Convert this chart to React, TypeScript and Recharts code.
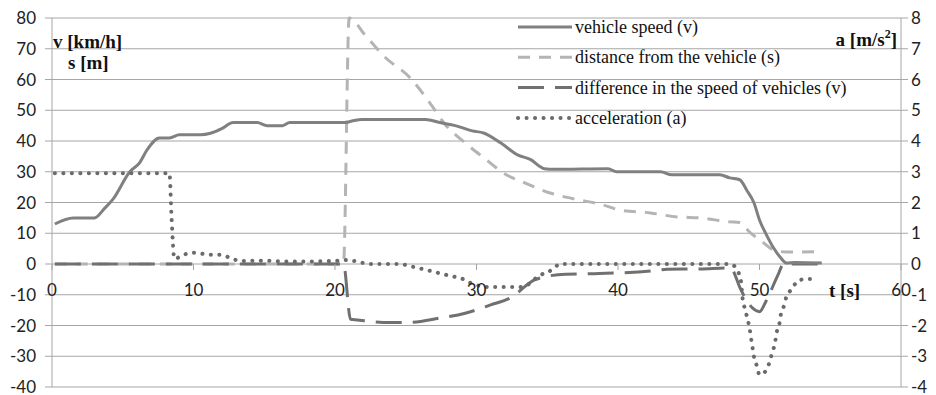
import React from 'react';
import { LineChart, Line, XAxis, YAxis, CartesianGrid, Legend } from 'recharts';

// vehicle speed v [km/h]
const speedT = [0.2, 1.5, 3, 3.7, 4.3, 5.5, 6.2, 6.7, 7.6, 8.3, 9, 10.5, 11.2, 12, 12.8, 14.5, 15.2, 16.3, 16.8, 20.7, 21.2, 21.9, 26.4, 27.4, 28.5, 29.7, 30.5, 31.7, 32.9, 33.8, 34.8, 35.5, 39.3, 39.9, 43, 43.8, 47.2, 47.9, 48.6, 49.1, 49.6, 50, 50.5, 51, 51.5, 51.9, 52.5, 54.4];
const speedV = [13, 15, 15, 18, 21, 30, 33, 37, 41, 41, 42, 42, 42.5, 44, 46, 46, 45, 45, 46, 46, 46.5, 47, 47, 46, 45, 43.3, 42.6, 39.4, 35.5, 34, 31, 30.8, 31, 30, 30, 29, 29, 28, 27.4, 24, 20, 14.3, 9.4, 5.2, 2, 0.3, 0.5, 0.3];

// distance from the vehicle s [m]
const distT = [0.2, 20.6, 21, 22.1, 23.5, 25.3, 26.7, 27.8, 29.2, 30.7, 31.9, 33.4, 35.2, 37.3, 38.7, 40.1, 42.3, 44.2, 45.8, 47.9, 48.6, 49.3, 50.2, 51, 51.9, 54.4];
const distV = [0, 0, 80, 74.6, 67.4, 60.6, 52.4, 45.3, 39.4, 33.9, 29.6, 26.4, 23.1, 20.8, 19.5, 17.6, 16.6, 15.3, 15, 13.7, 13.5, 10.4, 7.2, 4.6, 3.9, 4];

// difference in the speed of vehicles [km/h]
const diffT = [0.2, 20.6, 21.1, 21.6, 22.2, 23.4, 25.3, 27.4, 29.2, 31, 32.4, 34.1, 35, 36.3, 38.7, 42.3, 43.5, 45.8, 47.9, 48.1, 48.6, 49.5, 50, 50.5, 51.3, 51.7, 54.4];
const diffV = [0, 0, -18, -18.2, -18.5, -19, -19, -17.6, -16, -13.3, -11, -5.2, -4, -3.3, -3.1, -2.3, -1.7, -1.6, -1.3, -2, -7.5, -14.3, -15.5, -11.7, -3.6, 0, 0];

// acceleration a [m/s2]
const accT = [0.2, 8.3, 8.45, 8.65, 9.3, 10, 11.2, 11.9, 12.6, 13.3, 14.6, 17, 20, 20.6, 21.3, 22.5, 24.6, 25.3, 26.5, 27.9, 29.1, 29.8, 31, 33.1, 33.6, 34.3, 35.4, 35.9, 47.9, 48.3, 48.5, 48.7, 48.8, 49, 49.3, 49.5, 49.6, 49.8, 50, 50.5, 50.7, 50.9, 51.1, 51.2, 51.4, 51.5, 51.7, 51.9, 52.3, 52.7, 53.3, 53.9];
const accV = [2.95, 2.95, 1.5, 0.17, 0.3, 0.37, 0.3, 0.3, 0.2, 0.1, 0.11, 0.08, 0.1, 0.13, 0.1, 0, 0, -0.07, -0.2, -0.36, -0.5, -0.66, -0.75, -0.75, -0.68, -0.42, -0.17, 0, 0, -0.1, -0.26, -0.59, -1.1, -1.5, -2.1, -2.7, -3.0, -3.3, -3.6, -3.45, -3.2, -2.87, -2.56, -2.25, -1.96, -1.66, -1.4, -1.07, -0.81, -0.55, -0.49, -0.49];

const xTicks = [0, 10, 20, 30, 40, 50, 60];
const leftTicks = [-40, -30, -20, -10, 0, 10, 20, 30, 40, 50, 60, 70, 80];
const rightTicks = [-4, -3, -2, -1, 0, 1, 2, 3, 4, 5, 6, 7, 8];

const zip = (ts: number[], vs: number[]) => ts.map((t, i) => ({ t, v: vs[i] }));

const W = 936;
const H = 395;
const TOP = 18;
const BOTTOM = 8;
const PLOT_H = H - TOP - BOTTOM;
const ZERO_Y = TOP + (PLOT_H * 80) / 120;

const GRID = '#a6a6a6';
const TICK_FONT = 'Lato, "Open Sans", sans-serif';
const SERIF = '"Liberation Serif", "Times New Roman", serif';

const series = [
  { name: 'vehicle speed (v)', color: '#808080', width: 3, dash: undefined as string | undefined, cap: 'butt' },
  { name: 'distance from the vehicle (s)', color: '#b4b4b4', width: 3, dash: '12 9', cap: 'butt' },
  { name: 'difference in the speed of vehicles (v)', color: '#707070', width: 3, dash: '26 11', cap: 'butt' },
  { name: 'acceleration (a)', color: '#6b6b6b', width: 4, dash: '0.1 8.4', cap: 'round' },
];

// x labels sit just under the zero line, like the original
const renderXTick = (props: any) => {
  const { x, payload } = props;
  return (
    <g>
      <line x1={x} x2={x} y1={ZERO_Y} y2={ZERO_Y + 6} stroke={GRID} />
      <text x={x} y={ZERO_Y + 32} textAnchor="middle" fill="#222" fontSize={17} fontFamily={TICK_FONT}>
        {payload.value}
      </text>
    </g>
  );
};

const LegendBox = () => (
  <svg width={340} height={125}>
    {series.map((s, i) => {
      const y = 13 + i * 30.3;
      return (
        <g key={s.name}>
          <line x1={2} x2={56} y1={y} y2={y} stroke={s.color} strokeWidth={s.width}
            strokeDasharray={s.dash} strokeLinecap={s.cap as any} />
          <text x={59} y={y + 6} fontSize={18} fontFamily={SERIF} fill="#111">{s.name}</text>
        </g>
      );
    })}
  </svg>
);

export default function App() {
  return (
    <div style={{ position: 'absolute', left: 0, top: 0, width: W, height: H, background: '#fff' }}>
      <LineChart width={W} height={H} margin={{ top: TOP, right: 0, bottom: BOTTOM - 1, left: 0 }}>
        <CartesianGrid yAxisId="left" vertical={false} stroke={GRID} />
        <XAxis dataKey="t" type="number" domain={[0, 60]} ticks={xTicks} height={1}
          axisLine={false} tickLine={false} tick={renderXTick} interval={0} />
        <YAxis yAxisId="left" domain={[-40, 80]} ticks={leftTicks} width={52} interval={0}
          stroke={GRID} tickSize={7} tickMargin={9}
          tick={{ fill: '#222', fontSize: 17, fontFamily: TICK_FONT }} />
        <YAxis yAxisId="right" orientation="right" domain={[-4, 8]} ticks={rightTicks} width={35} interval={0}
          stroke={GRID} tickSize={7} tickMargin={3}
          tick={{ fill: '#222', fontSize: 17, fontFamily: TICK_FONT, textAnchor: 'start' }} />
        <Legend layout="vertical" align="center" verticalAlign="middle" content={<LegendBox />}
          wrapperStyle={{ position: 'absolute', left: 516, top: 14, width: 340, height: 125 }} />
        <Line yAxisId="left" data={zip(distT, distV)} dataKey="v" name={series[1].name} type="monotone"
          stroke={series[1].color} strokeWidth={3} strokeDasharray={series[1].dash} dot={false} isAnimationActive={false} />
        <Line yAxisId="left" data={zip(diffT, diffV)} dataKey="v" name={series[2].name} type="monotone"
          stroke={series[2].color} strokeWidth={3} strokeDasharray={series[2].dash} dot={false} isAnimationActive={false} />
        <Line yAxisId="left" data={zip(speedT, speedV)} dataKey="v" name={series[0].name} type="monotone"
          stroke={series[0].color} strokeWidth={3} dot={false} isAnimationActive={false} />
        <Line yAxisId="right" data={zip(accT, accV)} dataKey="v" name={series[3].name} type="monotone"
          stroke={series[3].color} strokeWidth={4} strokeDasharray={series[3].dash} strokeLinecap="round"
          dot={false} isAnimationActive={false} />
      </LineChart>
      <svg width={W} height={H} style={{ position: 'absolute', left: 0, top: 0, pointerEvents: 'none' }}>
        <g fontFamily={SERIF} fontWeight="bold" fontSize={19} fill="#111">
          <text x={53} y={48}>v [km/h]</text>
          <text x={68} y={69}>s [m]</text>
          <text x={897} y={46} textAnchor="end">a [m/s<tspan fontSize={12} dy={-8}>2</tspan><tspan dy={8}>]</tspan></text>
          <text x={829} y={297}>t [s]</text>
        </g>
      </svg>
    </div>
  );
}
